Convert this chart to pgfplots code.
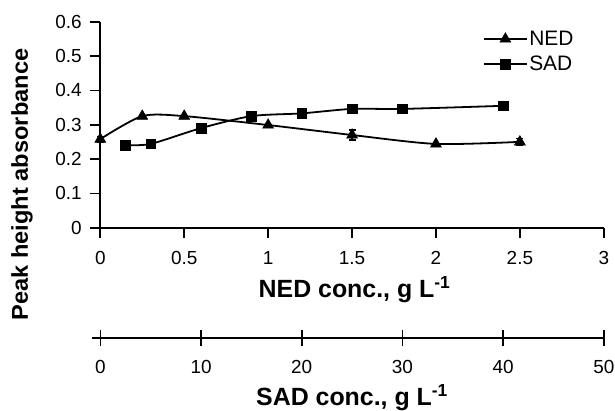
\documentclass[border=0pt]{standalone}
\usepackage{fontspec}
\setmainfont{Liberation Sans}
\usepackage{pgfplots}
\pgfplotsset{compat=1.18}

% NED concentration (g/L) vs peak height absorbance
\pgfplotstableread{
x     y      e
0     0.258  0.008
0.25  0.325  0
0.5   0.325  0
1     0.299  0
1.5   0.270  0.015
2     0.244  0
2.5   0.250  0.010
}\ned
% SAD concentration (g/L) vs peak height absorbance
\pgfplotstableread{
x     y
2.5   0.241
5     0.244
10    0.290
15    0.325
20    0.333
25    0.346
30    0.346
40    0.355
}\sad

\begin{document}
\begin{tikzpicture}
\begin{axis}[
    scale only axis,
    width=503.5bp, height=206bp,
    xmin=0, xmax=3, ymin=0, ymax=0.6,
    axis x line*=bottom, axis y line*=left,
    xtick={0,0.5,...,3}, ytick={0,0.1,...,0.6},
    tick align=outside,
    major tick length=10bp,
    axis line style={line width=1.7bp, -},
    tick style={line width=1.7bp, black},
    /pgf/number format/assume math mode=true,
    xticklabel style={font=\fontsize{19}{22}\selectfont, yshift=-10bp},
    yticklabel style={font=\fontsize{19}{22}\selectfont, xshift=-5bp,
      /pgf/number format/fixed},
    xlabel={\textbf{NED conc., g L\textsuperscript{-1}}},
    xlabel style={font=\fontsize{25}{29}\selectfont,
      at={(axis description cs:0.505,0)}, anchor=center, yshift=-62bp},
    ylabel={\scalebox{1.03}[1]{\textbf{Peak height absorbance}}},
    ylabel style={font=\fontsize{23}{27}\selectfont,
      at={(axis description cs:-0.1555,0.21)}, anchor=center, rotate=0},
    legend style={draw=none, fill=none,
      at={(axis description cs:0.95,0.975)}, anchor=north east,
      font=\fontsize{21}{24}\selectfont, row sep=5bp,
      legend cell align=left},
    legend image code/.code={
      \draw[mark repeat=2, mark phase=2]
        plot coordinates {(0bp,0bp) (21bp,0bp) (42bp,0bp)};},
    clip=false,
  ]
  \addplot+[black, line width=1.8bp, smooth, tension=0.45,
    mark=triangle*, mark size=6.3bp,
    mark options={solid, fill=black, line width=0.5bp},
    error bars/.cd, y dir=both, y explicit,
    error bar style={line width=1.3bp, black},
    error mark options={rotate=90, mark size=3.5bp, line width=1.3bp}]
    table[x=x, y=y, y error=e] {\ned};
  \addplot+[black, line width=1.8bp, smooth, tension=0.45,
    mark=square*, mark size=4.8bp,
    mark options={solid, fill=black, line width=0.5bp},
    x filter/.expression={x*3/50}]
    table[x=x, y=y] {\sad};
  \legend{NED, SAD}
\end{axis}

% second x axis for SAD concentration
\begin{axis}[
    at={(-8bp,-110bp)}, anchor=south west,
    scale only axis,
    width=511.5bp, height=1bp,
    xmin=-0.8, xmax=50, ymin=0, ymax=1,
    axis x line*=bottom, hide y axis,
    xtick={0,10,...,50},
    tick align=center,
    major tick length=16bp,
    axis line style={line width=1.7bp, -},
    tick style={line width=1.7bp, black},
    /pgf/number format/assume math mode=true,
    xticklabel style={font=\fontsize{19}{22}\selectfont, yshift=-11bp},
    xlabel={\textbf{SAD conc., g L\textsuperscript{-1}}},
    xlabel style={font=\fontsize{25}{29}\selectfont,
      at={(axis description cs:0.5,0)}, anchor=center, yshift=-60bp, xshift=4bp},
  ]
\end{axis}

\pgfresetboundingbox
\path (-100.3bp,-183.3bp) rectangle (514.7bp,227.7bp);
\end{tikzpicture}
\end{document}
